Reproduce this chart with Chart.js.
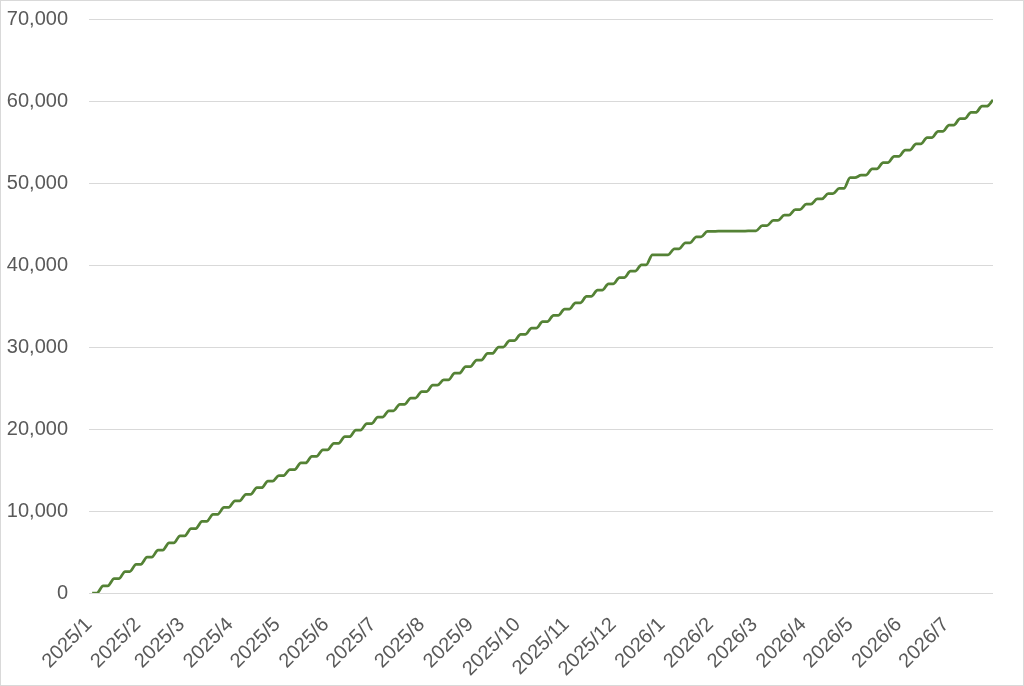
<!DOCTYPE html>
<html>
<head>
<meta charset="utf-8">
<script src="https://cdn.jsdelivr.net/npm/chart.js@4.4.1/dist/chart.umd.min.js"></script>
<style>
	html, body { margin: 0; padding: 0; background: #fff; }
	#wrap {
		position: relative;
		width: 1024px;
		height: 686px;
		box-sizing: border-box;
		border: 1px solid #d9d9d9;
	}
	#chart { display: block; }
</style>
</head>
<body>
<div id="wrap"><canvas id="chart" width="1022" height="684"></canvas></div>
<script>
// Datos: total acumulado al cierre de cada semana (viernes)
const startDate = "2025-01-01";
const endDate = "2026-07-31";

const weekEnds = [
	"2025-01-03", "2025-01-10", "2025-01-17", "2025-01-24", "2025-01-31",
	"2025-02-07", "2025-02-14", "2025-02-21", "2025-02-28",
	"2025-03-07", "2025-03-14", "2025-03-21", "2025-03-28",
	"2025-04-04", "2025-04-11", "2025-04-18", "2025-04-25",
	"2025-05-02", "2025-05-09", "2025-05-16", "2025-05-23", "2025-05-30",
	"2025-06-06", "2025-06-13", "2025-06-20", "2025-06-27",
	"2025-07-04", "2025-07-11", "2025-07-18", "2025-07-25",
	"2025-08-01", "2025-08-08", "2025-08-15", "2025-08-22", "2025-08-29",
	"2025-09-05", "2025-09-12", "2025-09-19", "2025-09-26",
	"2025-10-03", "2025-10-10", "2025-10-17", "2025-10-24", "2025-10-31",
	"2025-11-07", "2025-11-14", "2025-11-21", "2025-11-28",
	"2025-12-05", "2025-12-12", "2025-12-19", "2025-12-26",
	"2026-01-02", "2026-01-09", "2026-01-16", "2026-01-23", "2026-01-30",
	"2026-02-06", "2026-02-13", "2026-02-20", "2026-02-27",
	"2026-03-06", "2026-03-13", "2026-03-20", "2026-03-27",
	"2026-04-03", "2026-04-10", "2026-04-17", "2026-04-24",
	"2026-05-01", "2026-05-08", "2026-05-15", "2026-05-22", "2026-05-29",
	"2026-06-05", "2026-06-12", "2026-06-19", "2026-06-26",
	"2026-07-03", "2026-07-10", "2026-07-17", "2026-07-24", "2026-07-31",
];

const weekTotals = [
	0, 870, 1740, 2620, 3500,
	4370, 5230, 6100, 6980,
	7850, 8720, 9590, 10440,
	11240, 12040, 12840, 13640,
	14320, 15060, 15860, 16660, 17460,
	18260, 19060, 19860, 20660,
	21440, 22220, 23000, 23780,
	24560, 25340, 25980, 26800, 27610,
	28410, 29210, 30000, 30770,
	31540, 32310, 33080, 33850, 34620,
	35390, 36160, 36930, 37700,
	38470, 39240, 40010, 41250,
	41250, 41980, 42710, 43440, 44100,
	44120, 44130, 44140, 44160,
	44800, 45440, 46080, 46760,
	47420, 48060, 48700, 49330,
	50650, 50950, 51720, 52480, 53250,
	54010, 54780, 55540, 56310,
	57070, 57840, 58600, 59360, 60120,
];

// Etiquetas del eje X (inicio de cada mes)
const monthStarts = [
	"2025-01-01", "2025-02-01", "2025-03-01", "2025-04-01", "2025-05-01",
	"2025-06-01", "2025-07-01", "2025-08-01", "2025-09-01", "2025-10-01",
	"2025-11-01", "2025-12-01", "2026-01-01", "2026-02-01", "2026-03-01",
	"2026-04-01", "2026-05-01", "2026-06-01", "2026-07-01",
];
const monthLabels = [
	"2025/1", "2025/2", "2025/3", "2025/4", "2025/5", "2025/6", "2025/7",
	"2025/8", "2025/9", "2025/10", "2025/11", "2025/12", "2026/1", "2026/2",
	"2026/3", "2026/4", "2026/5", "2026/6", "2026/7",
];

const yTicks = [0, 10000, 20000, 30000, 40000, 50000, 60000, 70000];

const DAY_MS = 86400000;
const dayOf = (d) => (new Date(d) - new Date(startDate)) / DAY_MS;

// Cada semana arranca con el total del viernes anterior (fin de semana plano)
const points = [];
weekEnds.forEach((d, i) => {
	const fri = dayOf(d);
	const mon = fri - 4;
	const prev = i > 0 ? weekTotals[i - 1] : 0;
	if (mon > 0) points.push({ x: mon, y: prev });
	points.push({ x: fri, y: weekTotals[i] });
});

const tickFont = { family: "'Liberation Sans', Arial, sans-serif", size: 20 };
const tickColor = "#595959";

new Chart(document.getElementById("chart"), {
	type: "line",
	data: {
		datasets: [
			{
				data: points,
				borderColor: "#548235",
				borderWidth: 2.75,
				pointRadius: 0,
				fill: false,
				cubicInterpolationMode: "monotone",
			},
		],
	},
	options: {
		responsive: false,
		animation: false,
		devicePixelRatio: 1,
		layout: { padding: { top: 18, right: 30, left: 0, bottom: 0 } },
		plugins: { legend: { display: false }, tooltip: { enabled: false } },
		scales: {
			x: {
				type: "linear",
				min: 0,
				max: dayOf(endDate),
				grid: { display: false },
				border: { display: false },
				afterBuildTicks: (scale) => {
					scale.ticks = monthStarts.map((d) => ({ value: dayOf(d) }));
				},
				afterFit: (scale) => {
					scale.height = 92;
				},
				ticks: {
					autoSkip: false,
					maxRotation: 45,
					minRotation: 45,
					padding: 12,
					color: tickColor,
					font: tickFont,
					callback: (value, index) => monthLabels[index],
				},
			},
			y: {
				min: 0,
				max: 70000,
				afterBuildTicks: (scale) => {
					scale.ticks = yTicks.map((v) => ({ value: v }));
				},
				afterFit: (scale) => {
					// el área del gráfico la fija layout.padding, no las etiquetas
					scale.width = 88;
					scale.paddingTop = 0;
					scale.paddingBottom = 0;
				},
				grid: { color: "#d9d9d9", lineWidth: 1, drawTicks: false },
				border: { display: false },
				ticks: {
					padding: 21,
					color: tickColor,
					font: tickFont,
					callback: (value) => value.toLocaleString("en-US"),
				},
			},
		},
	},
});
</script>
</body>
</html>
